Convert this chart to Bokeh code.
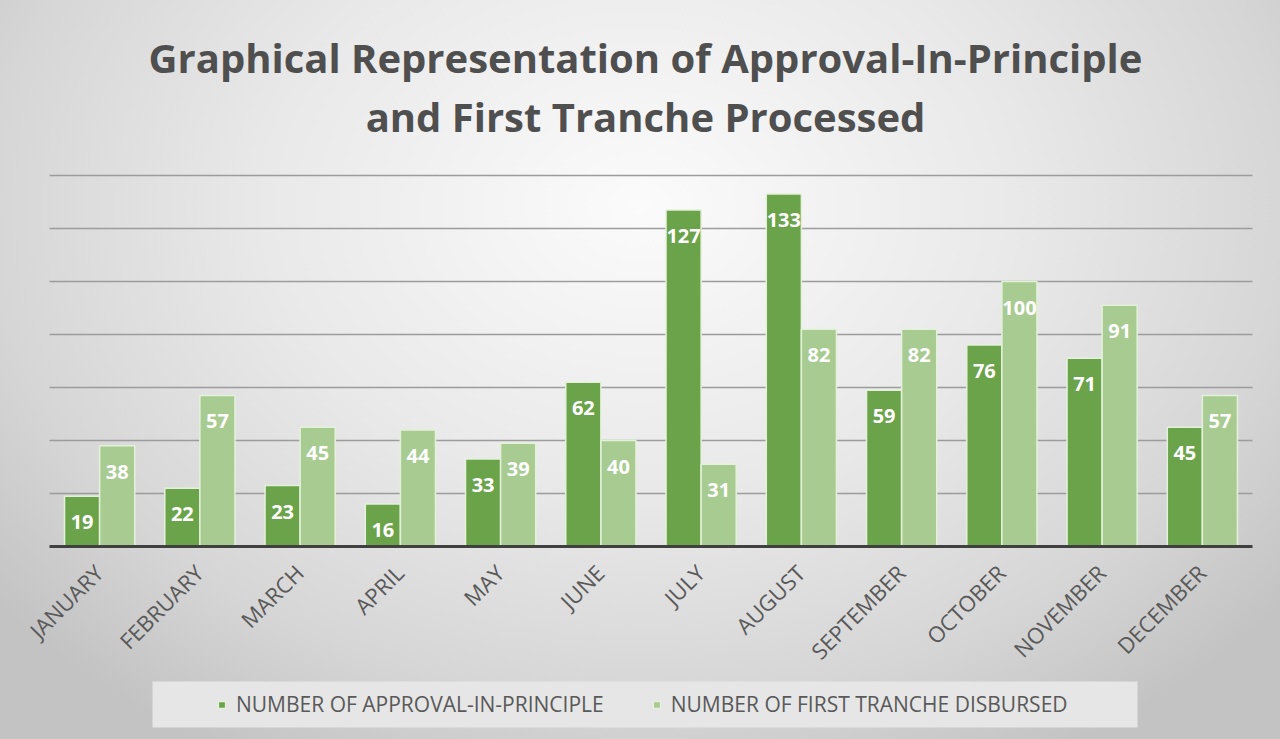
from math import pi
import numpy as np
from bokeh.plotting import figure
from bokeh.models import (ColumnDataSource, Legend, LegendItem, Label,
                          BoxAnnotation, Range1d, Grid)
from bokeh.transform import dodge
from bokeh.core.properties import value
from bokeh.embed import file_html
from bokeh.resources import INLINE

# ---- data ----
months = ["JANUARY", "FEBRUARY", "MARCH", "APRIL", "MAY", "JUNE", "JULY",
          "AUGUST", "SEPTEMBER", "OCTOBER", "NOVEMBER", "DECEMBER"]
approval = [19, 22, 23, 16, 33, 62, 127, 133, 59, 76, 71, 45]
tranche = [38, 57, 45, 44, 39, 40, 31, 82, 82, 100, 91, 57]
series_names = ["NUMBER OF APPROVAL-IN-PRINCIPLE", "NUMBER OF FIRST TRANCHE DISBURSED"]
title_lines = ["Graphical Representation of Approval-In-Principle",
               "and First Tranche Processed"]
y_ticks = [0, 20, 40, 60, 80, 100, 120, 140]

# ---- styles / layout (pixels) ----
DARK = "#6ba34a"
LIGHT = "#a8cb91"
EDGE = "#e4f1da"
TXT = "#595959"
TITLE_TXT = "#4f4f4f"
FONT = "Open Sans"
W, H = 1280, 739
PLOT_L, PLOT_R, PLOT_T, PLOT_B = 49, 1252, 175, 546

n = len(months)
xpos = np.arange(1, n + 1, dtype=float)
cat_px = (PLOT_R - PLOT_L) / n
unit_px = (PLOT_B - PLOT_T) / y_ticks[-1]
x_range = Range1d(0.5 - PLOT_L / cat_px, n + 0.5 + (W - PLOT_R) / cat_px)
y_range = Range1d(-(H - PLOT_B) / unit_px, y_ticks[-1] + PLOT_T / unit_px)

src = ColumnDataSource(dict(
    x=xpos, month=months, zero=[0] * n,
    approval=approval, tranche=tranche,
    approval_txt=[str(v) for v in approval],
    tranche_txt=[str(v) for v in tranche],
))

p = figure(x_range=x_range, y_range=y_range, width=W, height=H,
           output_backend="svg", toolbar_location=None, title=None,
           x_axis_location=None, y_axis_location=None,
           min_border=0, min_border_left=0, min_border_right=0,
           min_border_top=0, min_border_bottom=0)
for r in list(p.center):
    if isinstance(r, Grid):
        r.visible = False
p.background_fill_alpha = 0
p.border_fill_alpha = 0
p.outline_line_color = None
p.styles = {"background-image":
            "radial-gradient(ellipse 65% 85% at 50% 28%, #fbfbfb 0%, #e9e9e9 45%, #d6d6d6 78%, #c3c3c3 100%)"}

# gridlines
gy = y_ticks[1:]
p.segment(x0=[0.5] * len(gy), x1=[n + 0.5] * len(gy), y0=gy, y1=gy,
          line_color="#9c9c9c", line_width=1.5)

# bars
r1 = p.vbar(x=dodge("x", -0.175), top="approval", width=0.35, source=src,
            fill_color=DARK, line_color=EDGE, line_width=1.5)
r2 = p.vbar(x=dodge("x", 0.175), top="tranche", width=0.35, source=src,
            fill_color=LIGHT, line_color=EDGE, line_width=1.5)

# baseline (x axis line)
p.segment(x0=[0.5], x1=[n + 0.5], y0=[y_ticks[0]], y1=[y_ticks[0]],
          line_color="#404040", line_width=3)

# data labels
for col, off in (("approval", -0.175), ("tranche", 0.175)):
    p.text(x=dodge("x", off), y=col, text=col + "_txt", source=src,
           text_align="center", text_baseline="middle", y_offset=26,
           text_color="white", text_font=value(FONT), text_font_style="bold",
           text_font_size="20px")

# category labels (rotated)
p.text(x="x", y="zero", text="month", source=src, angle=pi / 4,
       text_align="right", text_baseline="middle", x_offset=-1, y_offset=22,
       text_color=TXT, text_font=value(FONT), text_font_size="22px")

# titles (screen units from bottom-left)
p.add_layout(Label(x=645, y=H - 57, x_units="screen", y_units="screen", text=title_lines[0],
                   text_align="center", text_baseline="alphabetic", text_font=FONT,
                   text_font_style="bold", text_font_size="40px", text_color=TITLE_TXT))
p.add_layout(Label(x=645, y=H - 116, x_units="screen", y_units="screen", text=title_lines[1],
                   text_align="center", text_baseline="alphabetic", text_font=FONT,
                   text_font_style="bold", text_font_size="40px", text_color=TITLE_TXT))

# legend box
p.add_layout(BoxAnnotation(left=152, right=1137, top=H - 681, bottom=H - 727,
                           left_units="screen", right_units="screen",
                           top_units="screen", bottom_units="screen",
                           fill_color="#e6e6e6", fill_alpha=1, line_color=None))

legend = Legend(items=[LegendItem(label=series_names[0], renderers=[r1]),
                       LegendItem(label=series_names[1], renderers=[r2])],
                orientation="horizontal", location=(217, 21),
                glyph_width=9, glyph_height=9, label_standoff=10, spacing=48,
                padding=10, background_fill_alpha=0, border_line_color=None,
                label_text_font=FONT, label_text_font_size="21px",
                label_text_color=TXT)
p.add_layout(legend)

open("out.html", "w").write(file_html(p, INLINE))
